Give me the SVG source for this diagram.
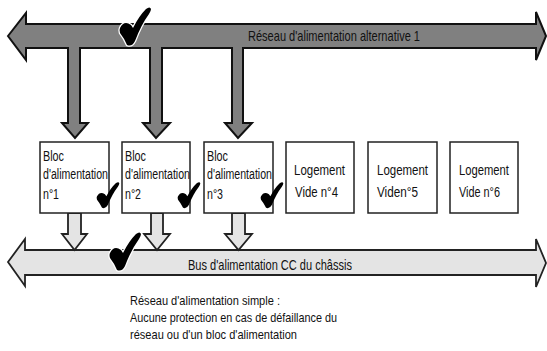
<svg xmlns="http://www.w3.org/2000/svg" width="547" height="351" viewBox="0 0 547 351">
<defs>
<path id="chk" d="M0,21 Q4,13 11,18 L13,21 Q19,9 26,2 Q30,-1 31,2 Q31,4 29,7 Q21,18 15,34 Q12,40 7,38 Q4,31 0,26 Q-1,23 0,21 Z"/>
</defs>
<style>
text{font-family:"Liberation Sans Narrow","Liberation Sans",Arial,sans-serif;fill:#111}
.box{fill:#fff;stroke:#222;stroke-width:1.5}
.dark{fill:#808080;stroke:#111;stroke-width:2;stroke-linejoin:miter}
.light{fill:#e4e4e4;stroke:#222;stroke-width:1.8;stroke-linejoin:miter}
.ck{fill:#000}
.ckw{fill:#000;stroke:#fff;stroke-width:2.5;paint-order:stroke}
.bt{font-size:14px}
.lab{font-size:15px}
.note{font-size:13px;font-family:"Liberation Sans",Arial,sans-serif}
</style>
<rect width="547" height="351" fill="#fff"/>
<g id="connectors">
<path class="dark" d="M8,36 L26,13 L26,24 L536,24 L536,12 L546,36 L536,60 L536,48 L243,48 L243,123 L252,123 L238,138 L225,123 L232,123 L232,48 L162,48 L162,123 L170,123 L156,138 L143,123 L150,123 L150,48 L80,48 L80,123 L88,123 L75,138 L62,123 L68,123 L68,48 L26,48 L26,60 Z"/>
<path class="light" d="M8,262 L25,239 L25,250 L536,250 L536,239 L546,263 L536,287 L536,275 L25,275 L25,286 Z"/>
<path class="light" d="M68,213 L81,213 L81,234 L87,234 L74.5,250 L62,234 L68,234 Z"/>
<path class="light" d="M151,213 L163,213 L163,234 L170,234 L157,250 L144,234 L151,234 Z"/>
<path class="light" d="M232,213 L245,213 L245,234 L252,234 L238.5,250 L225,234 L232,234 Z"/>
</g>
<g id="labels">
<text class="lab" x="248" y="41" textLength="172" lengthAdjust="spacingAndGlyphs">Réseau d'alimentation alternative 1</text>
<text class="lab" x="188" y="270" textLength="164" lengthAdjust="spacingAndGlyphs">Bus d'alimentation CC du châssis</text>
</g>
<g id="check-top"><use href="#chk" class="ckw" transform="translate(120,7)"/></g>
<g id="check-bus"><use href="#chk" class="ckw" transform="translate(110,232)"/></g>
<g id="bloc1">
<rect class="box" x="40" y="142" width="69" height="71"/>
<text class="bt" x="43" y="161" textLength="21" lengthAdjust="spacingAndGlyphs">Bloc</text>
<text class="bt" x="43" y="179" textLength="65" lengthAdjust="spacingAndGlyphs">d'alimentation</text>
<text class="bt" x="43" y="199" textLength="16" lengthAdjust="spacingAndGlyphs">n°1</text>
<use href="#chk" class="ck" transform="translate(97,182) scale(0.72,0.68)"/>
</g>
<g id="bloc2">
<rect class="box" x="122" y="142" width="68" height="71"/>
<text class="bt" x="125" y="161" textLength="21" lengthAdjust="spacingAndGlyphs">Bloc</text>
<text class="bt" x="125" y="179" textLength="65" lengthAdjust="spacingAndGlyphs">d'alimentation</text>
<text class="bt" x="125" y="199" textLength="16" lengthAdjust="spacingAndGlyphs">n°2</text>
<use href="#chk" class="ck" transform="translate(178,182) scale(0.72,0.68)"/>
</g>
<g id="bloc3">
<rect class="box" x="204" y="142" width="69" height="71"/>
<text class="bt" x="207" y="161" textLength="21" lengthAdjust="spacingAndGlyphs">Bloc</text>
<text class="bt" x="207" y="179" textLength="65" lengthAdjust="spacingAndGlyphs">d'alimentation</text>
<text class="bt" x="207" y="199" textLength="16" lengthAdjust="spacingAndGlyphs">n°3</text>
<use href="#chk" class="ck" transform="translate(261,182) scale(0.72,0.68)"/>
</g>
<g id="logement4">
<rect class="box" x="286" y="142" width="68" height="71"/>
<text class="bt" x="294" y="175" textLength="51" lengthAdjust="spacingAndGlyphs">Logement</text>
<text class="bt" x="295" y="197" textLength="43" lengthAdjust="spacingAndGlyphs">Vide n°4</text>
</g>
<g id="logement5">
<rect class="box" x="368" y="142" width="69" height="71"/>
<text class="bt" x="377" y="175" textLength="51" lengthAdjust="spacingAndGlyphs">Logement</text>
<text class="bt" x="377" y="197" textLength="41" lengthAdjust="spacingAndGlyphs">Viden°5</text>
</g>
<g id="logement6">
<rect class="box" x="450" y="142" width="68" height="71"/>
<text class="bt" x="459" y="175" textLength="50" lengthAdjust="spacingAndGlyphs">Logement</text>
<text class="bt" x="459" y="197" textLength="41" lengthAdjust="spacingAndGlyphs">Vide n°6</text>
</g>
<g id="note">
<text class="note" x="130" y="305" textLength="150" lengthAdjust="spacingAndGlyphs">Réseau d'alimentation simple :</text>
<text class="note" x="130" y="322" textLength="207" lengthAdjust="spacingAndGlyphs">Aucune protection en cas de défaillance du</text>
<text class="note" x="130" y="339" textLength="167" lengthAdjust="spacingAndGlyphs">réseau ou d'un bloc d'alimentation</text>
</g>
</svg>
